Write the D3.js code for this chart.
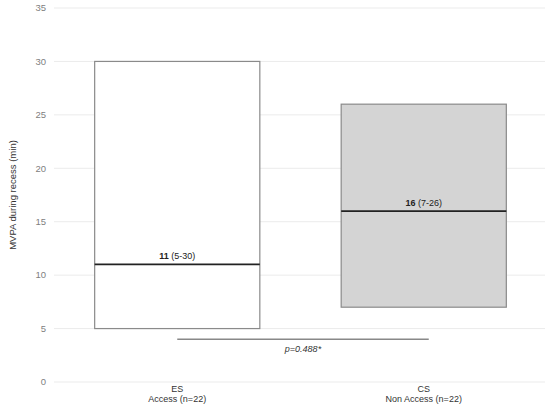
<!DOCTYPE html>
<html>
<head>
<meta charset="utf-8">
<script src="https://cdn.jsdelivr.net/npm/d3@7"></script>
<style>
  body { margin: 0; background: #fff; }
  text { font-family: "Liberation Sans", Arial, sans-serif; }
</style>
</head>
<body>
<div id="chart"></div>
<script>
// data
var groups = ["ES", "CS"];
var groupSub = ["Access (n=22)", "Non Access (n=22)"];
var medians = [11, 16];
var lows = [5, 7];
var highs = [30, 26];
var fills = ["#ffffff", "#d4d4d4"];
var yTicks = [0, 5, 10, 15, 20, 25, 30, 35];
var pLabel = "p=0.488*";
var pLevel = 4;

var w = 550, h = 406;
var margin = {top: 8, right: 3, bottom: 24, left: 54};

var svg = d3.select("#chart").append("svg")
    .attr("width", w)
    .attr("height", h);

var x = d3.scaleBand()
    .domain(groups)
    .range([margin.left, w - margin.right])
    .paddingInner(0.33)
    .paddingOuter(0.165);

var y = d3.scaleLinear()
    .domain([0, 35])
    .range([h - margin.bottom, margin.top]);

// grid + y ticks
var grid = svg.append("g");
grid.selectAll("line")
    .data(yTicks)
    .enter().append("line")
    .attr("x1", margin.left)
    .attr("x2", w - 5)
    .attr("y1", function(d) { return y(d); })
    .attr("y2", function(d) { return y(d); })
    .style("stroke", "#ebebeb")
    .style("stroke-width", 1);

grid.selectAll("text")
    .data(yTicks)
    .enter().append("text")
    .attr("x", margin.left - 8)
    .attr("y", function(d) { return y(d); })
    .attr("dy", "0.35em")
    .attr("text-anchor", "end")
    .style("font-size", "9.5px")
    .style("fill", "#808080")
    .text(function(d) { return d; });

svg.append("text")
    .attr("transform", "translate(13," + y(17.5) + ") rotate(-90)")
    .attr("text-anchor", "middle")
    .attr("dy", "0.35em")
    .style("font-size", "9.5px")
    .style("fill", "#333")
    .text("MVPA during recess (min)");

// boxes
svg.selectAll("rect.box")
    .data(groups)
    .enter().append("rect")
    .attr("class", "box")
    .attr("x", function(d) { return x(d); })
    .attr("width", x.bandwidth())
    .attr("y", function(d, i) { return y(highs[i]); })
    .attr("height", function(d, i) { return y(lows[i]) - y(highs[i]); })
    .style("fill", function(d, i) { return fills[i]; })
    .style("stroke", "#8a8a8a")
    .style("stroke-width", 1.2);

// medians
svg.selectAll("line.med")
    .data(groups)
    .enter().append("line")
    .attr("class", "med")
    .attr("x1", function(d) { return x(d); })
    .attr("x2", function(d) { return x(d) + x.bandwidth(); })
    .attr("y1", function(d, i) { return y(medians[i]); })
    .attr("y2", function(d, i) { return y(medians[i]); })
    .style("stroke", "#222")
    .style("stroke-width", 1.8);

var lab = svg.selectAll("text.med")
    .data(groups)
    .enter().append("text")
    .attr("class", "med")
    .attr("x", function(d) { return x(d) + x.bandwidth() / 2; })
    .attr("y", function(d, i) { return y(medians[i]) - 5; })
    .attr("text-anchor", "middle")
    .style("font-size", "9px")
    .style("fill", "#222");
lab.append("tspan")
    .style("font-weight", "bold")
    .text(function(d, i) { return medians[i]; });
lab.append("tspan")
    .text(function(d, i) { return " (" + lows[i] + "-" + highs[i] + ")"; });

// p-value bracket
var c0 = x(groups[0]) + x.bandwidth() / 2;
var c1 = x(groups[1]) + x.bandwidth() / 2 + 5;
svg.append("line")
    .attr("x1", c0)
    .attr("x2", c1)
    .attr("y1", y(pLevel))
    .attr("y2", y(pLevel))
    .style("stroke", "#888")
    .style("stroke-width", 1.5);
svg.append("text")
    .attr("x", (c0 + c1) / 2)
    .attr("y", y(pLevel) + 13)
    .attr("text-anchor", "middle")
    .style("font-size", "9px")
    .style("font-style", "italic")
    .style("fill", "#333")
    .text(pLabel);

// x labels
var xl = svg.selectAll("text.xl")
    .data(groups)
    .enter().append("text")
    .attr("class", "xl")
    .attr("text-anchor", "middle")
    .style("font-size", "9px")
    .style("fill", "#333");
xl.append("tspan")
    .attr("x", function(d) { return x(d) + x.bandwidth() / 2; })
    .attr("y", y(0) + 10)
    .text(function(d) { return d; });
xl.append("tspan")
    .attr("x", function(d) { return x(d) + x.bandwidth() / 2; })
    .attr("y", y(0) + 20)
    .text(function(d, i) { return groupSub[i]; });
</script>
</body>
</html>
